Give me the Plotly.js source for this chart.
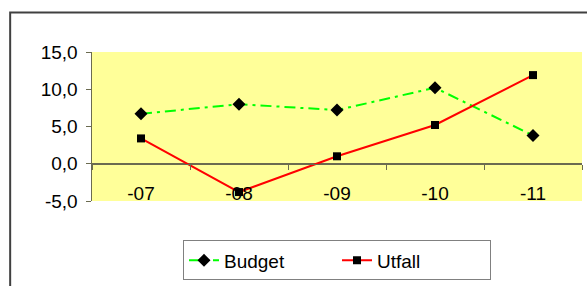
<!DOCTYPE html>
<html>
<head>
<meta charset="utf-8">
<script src="https://cdn.plot.ly/plotly-3.0.1.min.js"></script>
<style>html,body{margin:0;padding:0;background:#fff;}#chart{width:587px;height:286px;}</style>
</head>
<body>
<div id="chart"></div>
<script>
const categories = ["-07", "-08", "-09", "-10", "-11"];
const budget = [6.7, 8.0, 7.2, 10.2, 3.8];
const utfall = [3.4, -3.8, 1.0, 5.2, 11.9];
const yTickVals = [-5, 0, 5, 10, 15];
const yTickText = ["-5,0", "0,0", "5,0", "10,0", "15,0"];
const boundaryTicks = [-0.5, 0.5, 1.5, 2.5, 3.5, 4.5];

const axisColor = "#6b6b50";
const fontFam = "Liberation Sans, Arial, sans-serif";
const fs = 19;

const traces = [
  {
    x: categories, y: budget, name: "Budget", type: "scatter", mode: "lines+markers",
    line: {color: "#00ff00", width: 2, dash: "11px,5px,3px,5px"},
    marker: {symbol: "diamond", size: 10, color: "#000"}
  },
  {
    x: categories, y: utfall, name: "Utfall", type: "scatter", mode: "lines+markers",
    line: {color: "#ff0000", width: 2},
    marker: {symbol: "square", size: 8, color: "#000"}
  },
  {
    x: [], y: [], xaxis: "x2", yaxis: "y", type: "scatter", mode: "markers",
    showlegend: false, hoverinfo: "skip"
  }
];

const layout = {
  width: 587, height: 286,
  margin: {l: 92, r: 5, t: 52, b: 83},
  paper_bgcolor: "#ffffff",
  plot_bgcolor: "#ffff99",
  font: {family: fontFam, size: fs, color: "#000"},
  showlegend: true,
  legend: {
    orientation: "h", x: 0.5, xanchor: "center", y: -0.265, yanchor: "top",
    bordercolor: "#808080", borderwidth: 1, bgcolor: "#fff",
    entrywidth: 108, font: {family: fontFam, size: fs}
  },
  xaxis: {
    type: "category", showgrid: false, zeroline: false, showline: false,
    ticks: "", ticklabelstandoff: -21, tickfont: {family: fontFam, size: fs},
    range: [-0.5, 4.5], fixedrange: true
  },
  xaxis2: {
    overlaying: "x", anchor: "free", position: 0.25, type: "linear",
    range: [-0.5, 4.5], tickvals: boundaryTicks, ticks: "outside", ticklen: 5,
    tickcolor: axisColor, showticklabels: false, showline: true,
    linecolor: axisColor, linewidth: 1.5, showgrid: false, zeroline: false
  },
  yaxis: {
    range: [-5, 15], tickvals: yTickVals, ticktext: yTickText,
    ticks: "outside", ticklen: 5, tickcolor: axisColor, ticklabelstandoff: 4,
    showline: true, linecolor: axisColor, linewidth: 1.5,
    showgrid: false, zeroline: true, zerolinecolor: axisColor, zerolinewidth: 1.5,
    tickfont: {family: fontFam, size: fs}
  },
  shapes: [
    {type: "rect", xref: "paper", yref: "paper", x0: -0.167, x1: 1.2, y0: -0.7, y1: 1.265,
     line: {color: "#404040", width: 2}, fillcolor: "rgba(0,0,0,0)", layer: "below"}
  ]
};

Plotly.newPlot("chart", traces, layout, {displayModeBar: false, staticPlot: true});
</script>
</body>
</html>
